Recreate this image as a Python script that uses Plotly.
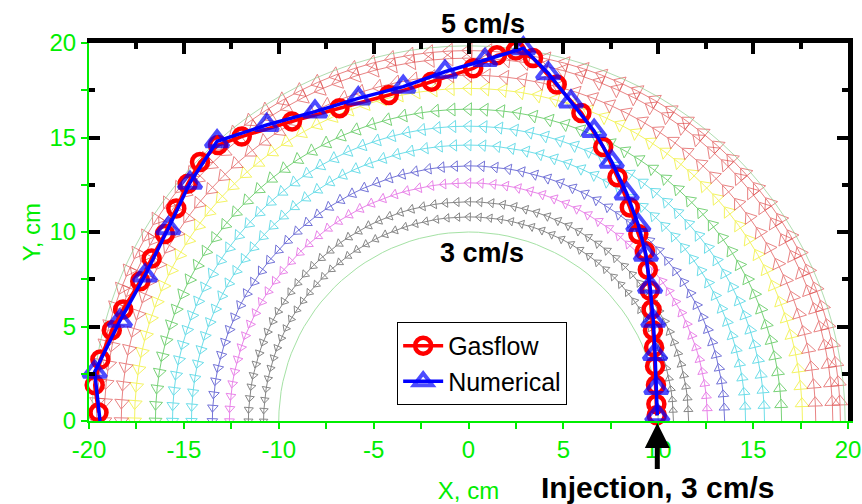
import numpy as np
import plotly.graph_objects as go

# ---------------- data ----------------
gas_x = [-19.5, -19.7, -19.4, -18.8, -18.2, -17.3, -16.7, -16.0, -15.4, -14.8, -14.15,
         -13.2, -11.95, -9.3, -6.8, -4.2, -1.95, 0.25, 1.5, 2.5, 3.4, 4.65, 5.95,
         7.1, 7.85, 8.5, 8.95, 9.3, 9.45, 9.55, 9.65, 9.72, 9.78, 9.83, 9.88, 9.9, 9.92]
gas_y = [0.45, 1.9, 3.25, 4.8, 5.9, 7.4, 8.6, 9.9, 11.25, 12.55, 13.7,
         14.6, 15.05, 15.85, 16.55, 17.25, 17.95, 18.66, 19.35, 19.6, 19.2, 17.8, 16.3,
         14.5, 12.9, 11.3, 9.9, 9.0, 8.0, 6.9, 5.9, 4.8, 3.9, 2.9, 1.9, 0.9, 0.3]

num_x = [-19.42, -19.7, -18.37, -17.05, -15.82, -14.68, -13.25, -10.64, -8.09, -5.81,
         -3.44, -1.24, 0.87, 2.89, 4.2, 5.4, 6.62, 7.55, 8.34, 8.95, 9.35, 9.57, 9.74,
         9.83, 9.9, 9.95]
num_y = [0.0, 2.6, 5.3, 7.7, 10.2, 12.6, 14.8, 15.66, 16.37, 17.07,
         17.69, 18.48, 19.1, 19.72, 18.4, 16.9, 15.35, 13.72, 12.04, 10.37, 8.8, 7.1, 5.3,
         3.55, 1.75, 0.3]

# background streamline rings (radius in cm, colour)
arc_radii = [10.0, 10.8, 11.6, 12.6, 13.5, 14.6, 15.6, 16.5, 17.6, 18.3, 19.2, 19.6, 19.85]
arc_colors = ["#7fd67f", "#555555", "#555555", "#e050e0", "#3a3ac8", "#30d0e0", "#30d0e0",
              "#40c040", "#f0f020", "#e05050", "#e05050", "#e05050", "#8fcf8f"]
arc_has_markers = [False, True, True, True, True, True, True, True, True, True, True, True, False]

x_ticks = [-20, -15, -10, -5, 0, 5, 10, 15, 20]
y_ticks = [0, 5, 10, 15, 20]

# ---------------- figure ----------------
GREEN = "#00ee00"
FONT = "Arial, Liberation Sans, sans-serif"

fig = go.Figure()

theta = np.linspace(0, np.pi, 61)
for r, c, mk in zip(arc_radii, arc_colors, arc_has_markers):
    fig.add_trace(go.Scatter(
        x=r * np.cos(theta), y=r * np.sin(theta),
        mode="lines+markers" if mk else "lines",
        line=dict(color=c, width=1),
        opacity=0.7,
        marker=dict(symbol="triangle-up-open", size=r * 0.68, angleref="previous",
                    color=c, line=dict(color=c, width=1)),
        showlegend=False, hoverinfo="skip",
    ))

fig.add_trace(go.Scatter(
    x=gas_x, y=gas_y, name="Gasflow", mode="lines+markers",
    line=dict(color="#ff0000", width=3.5),
    marker=dict(symbol="circle-open", size=16, color="#ff0000",
                line=dict(color="#ff0000", width=4.5)),
    cliponaxis=False,
))
num_sizes = [0] + [20] * (len(num_x) - 1)
fig.add_trace(go.Scatter(
    x=num_x, y=num_y, name="Numerical", mode="lines+markers",
    line=dict(color="#0000ff", width=3.5),
    marker=dict(symbol="triangle-up-open", size=num_sizes, color="#0000ff",
                line=dict(color="#0000ff", width=4)),
    cliponaxis=False,
))

# dummy traces so the frame axes get drawn
fig.add_trace(go.Scatter(x=[None], y=[None], xaxis="x2", yaxis="y", showlegend=False, hoverinfo="skip"))
fig.add_trace(go.Scatter(x=[None], y=[None], xaxis="x", yaxis="y2", showlegend=False, hoverinfo="skip"))
fig.add_trace(go.Scatter(x=[None], y=[None], xaxis="x", yaxis="y3", showlegend=False, hoverinfo="skip"))

fig.update_layout(
    width=862, height=504,
    margin=dict(l=89, r=14, t=43, b=83, autoexpand=False),
    paper_bgcolor="white", plot_bgcolor="white",
    font=dict(family=FONT, size=24, color="black"),
    xaxis=dict(range=[-20, 20], tickvals=x_ticks, ticktext=[str(v) for v in x_ticks],
               automargin=False,
               showgrid=False, zeroline=False, showline=True, linecolor=GREEN, linewidth=2,
               ticks="outside", ticklen=6, tickwidth=2, tickcolor=GREEN,
               minor=dict(dtick=2.5, ticks="outside", ticklen=6, tickwidth=2, tickcolor=GREEN),
               tickfont=dict(color=GREEN, size=24, family=FONT),
               title=dict(text="X, cm", font=dict(color=GREEN, size=24, family=FONT), standoff=20)),
    yaxis=dict(range=[0, 20], tickvals=y_ticks, ticktext=[str(v) for v in y_ticks],
               automargin=False,
               showgrid=False, zeroline=False, showline=True, linecolor=GREEN, linewidth=2,
               ticks="outside", ticklen=6, tickwidth=2, tickcolor=GREEN,
               minor=dict(dtick=2.5, ticks="outside", ticklen=6, tickwidth=2, tickcolor=GREEN),
               tickfont=dict(color=GREEN, size=24, family=FONT),
               title=dict(text="Y, cm", font=dict(color=GREEN, size=24, family=FONT), standoff=2)),
    xaxis2=dict(range=[-20, 20], overlaying="x", side="top", anchor="y", automargin=False,
                showgrid=False, zeroline=False, showline=True, linecolor="black", linewidth=5,
                tickvals=x_ticks, showticklabels=False,
                ticks="inside", ticklen=11, tickwidth=4, tickcolor="black",
                minor=dict(dtick=2.5, ticks="inside", ticklen=6, tickwidth=4, tickcolor="black")),
    yaxis2=dict(range=[0, 20], overlaying="y", side="right", anchor="x", automargin=False,
                showgrid=False, zeroline=False, showline=True, linecolor="black", linewidth=5,
                tickvals=y_ticks, showticklabels=False,
                ticks="inside", ticklen=11, tickwidth=4, tickcolor="black",
                minor=dict(dtick=2.5, ticks="inside", ticklen=6, tickwidth=4, tickcolor="black")),
    yaxis3=dict(range=[0, 20], overlaying="y", side="left", anchor="x", automargin=False,
                showgrid=False, zeroline=False, showline=False,
                tickvals=y_ticks, showticklabels=False,
                ticks="inside", ticklen=11, tickwidth=4, tickcolor="black",
                minor=dict(dtick=2.5, ticks="inside", ticklen=6, tickwidth=4, tickcolor="black")),
    legend=dict(x=0.406, y=0.262, xanchor="left", yanchor="top",
                bgcolor="white", bordercolor="black", borderwidth=1,
                font=dict(family=FONT, size=25, color="black"),
                tracegroupgap=0, itemwidth=40),
    annotations=[
        dict(text="<b>5 cm/s</b>", xref="paper", yref="paper", x=(483 - 89) / 759, y=(421 - 24) / 378,
             showarrow=False, font=dict(family=FONT, size=27, color="black"),
             xanchor="center", yanchor="middle"),
        dict(text="<b>3 cm/s</b>", xref="x", yref="y", x=0.7, y=8.9,
             showarrow=False, font=dict(family=FONT, size=27, color="black"),
             xanchor="center", yanchor="middle"),
        dict(text="<b>Injection, 3 cm/s</b>", xref="x", yref="y", x=9.95, y=0,
             ax=0, ay=66, showarrow=True, arrowhead=2, arrowsize=1, arrowwidth=5,
             arrowcolor="black", standoff=2,
             font=dict(family=FONT, size=30, color="black")),
    ],
)

fig.write_html("out.html")
